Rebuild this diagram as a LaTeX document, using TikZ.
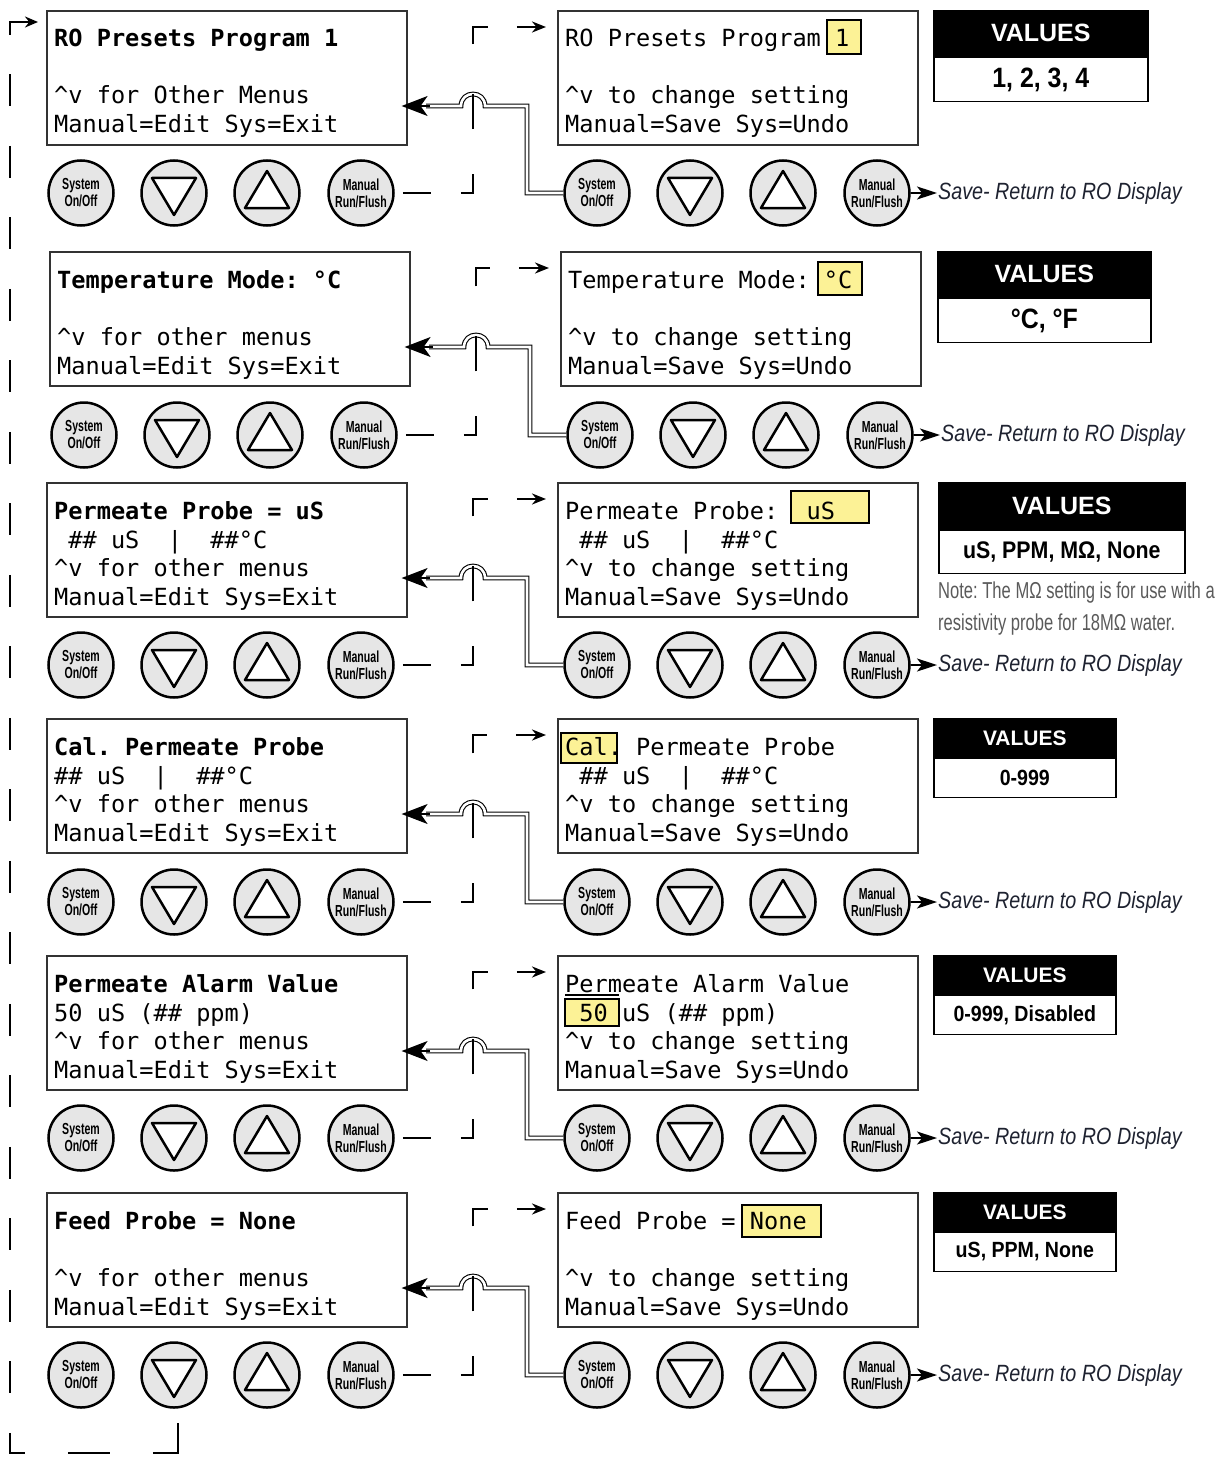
\documentclass[tikz,border=0pt]{standalone}
\usepackage{fontspec}
\usetikzlibrary{arrows.meta,calc}
\setmainfont{Liberation Sans}
\newfontfamily\lcdf{DejaVu Sans Mono}
\newfontfamily\hf{Liberation Sans}
\newfontfamily\valf{Liberation Sans}[FakeStretch=0.89]
\newfontfamily\notef{Liberation Sans}[FakeStretch=0.72]
\newfontfamily\savef{Liberation Sans}[FakeStretch=0.84]
\newfontfamily\btnf{Liberation Sans}[FakeStretch=0.66]
\definecolor{hl}{RGB}{252,242,150}
\definecolor{btngray}{RGB}{230,230,230}
\definecolor{notegray}{RGB}{90,90,90}
\definecolor{savecol}{RGB}{30,34,48}
\tikzset{
 lcdbox/.style={draw=black!80, line width=1.6pt, fill=white, inner sep=0pt, minimum width=360pt, minimum height=134pt, anchor=north west},
 lcd/.style={font=\lcdf\frenchspacing\fontsize{23.6}{28}\selectfont, inner sep=0pt, anchor=base west, yshift=-9pt, text=black},
 lcdb/.style={lcd, font=\lcdf\frenchspacing\bfseries\fontsize{23.6}{28}\selectfont},
 hlbox/.style={draw=black, line width=1.8pt, fill=hl},
 btn/.style={circle, draw=black, line width=2.5pt, fill=btngray, minimum size=65pt, inner sep=0pt, font=\btnf\bfseries\fontsize{16}{17}\selectfont, align=center},
 tri/.style={draw=black, line width=2.5pt, fill=white, line join=round},
 vhead/.style={draw=black, fill=black, text=white, line width=1.6pt, anchor=north west, inner sep=0pt},
 vbody/.style={draw=black, fill=white, line width=1.8pt, anchor=north, inner sep=0pt},
 savet/.style={font=\savef\frenchspacing\itshape\fontsize{23.5}{26}\selectfont, text=savecol, anchor=west, inner sep=1pt},
 notet/.style={font=\notef\frenchspacing\fontsize{23}{26}\selectfont, text=notegray, anchor=base west, yshift=-8pt, inner sep=0pt},
 savearr/.style={-{Stealth[length=20pt,width=13pt,inset=5pt]}, line width=1.5pt},
 dconn/.style={line width=2.4pt, draw=black},
 dbl/.style={draw=black, double=white, double distance=2.6pt, line width=1.1pt},
 bigarr/.style={-{Stealth[length=26pt,width=20pt,inset=7pt]}, line width=1.2pt},
 rowdash/.style={dconn, dash pattern=on 28pt off 30pt on 31pt off 45pt on 35pt off 50pt on 32pt off 29pt on 40pt off 10pt, -{Stealth[length=14pt,width=11pt]}},
}
\newcommand{\btnlab}[2]{#1\\#2}
\newcommand{\keypad}[3]{%
 \node[btn] (#1s) at (#2,#3) {\btnlab{System}{On/Off}};
 \node[btn] (#1d) at ({#2+93},#3) {};
 \draw[tri] ([shift={(-22,-15)}]#1d.center) -- ([shift={(22,-15)}]#1d.center) -- ([shift={(0,22)}]#1d.center) -- cycle;
 \node[btn] (#1u) at ({#2+186},#3) {};
 \draw[tri] ([shift={(-22,15)}]#1u.center) -- ([shift={(22,15)}]#1u.center) -- ([shift={(0,-22)}]#1u.center) -- cycle;
 \node[btn] (#1m) at ({#2+280},#3) {\btnlab{Manual}{Run/Flush}};
}
% #1 row id, #2 row top, #3 button y, #4 x offset, #5 left keypad prefix
\newcommand{\rowconn}[5]{%
 \draw[dbl] (R#1s.west) -- ({527+#4},#3) -- ({527+#4},{#2+96}) -- ({485+#4},{#2+96}) .. controls ({485+#4},{#2+80}) and ({461+#4},{#2+80}) .. ({461+#4},{#2+96}) -- ({426+#4},{#2+96});
 \draw[bigarr] ({430+#4},{#2+96}) -- ($(L#1box.north east)+(-6,96)$);
 \draw[rowdash] ([xshift=8pt]#5m.east) -- ({473+#4},#3) -- ({473+#4},{#2+17}) -- ($(R#1box.north west)+(-11,17)$);
}
\newcommand{\valbox}[9]{%
 \node[vhead, font={\hf\bfseries\fontsize{#8}{#8}\selectfont}, minimum width=#4, minimum height=#5] (V#1h) at (#2,#3) {VALUES};
 \node[vbody, font={\valf\bfseries\fontsize{#9}{#9}\selectfont}, minimum width=#4, minimum height=#6] (V#1b) at (V#1h.south) {#7};
}
\begin{document}
\begin{tikzpicture}[x=1pt,y=-1pt]
\fill[white] (0,0) rectangle (1228,1458);
\useasboundingbox (0,0) rectangle (1228,1458);

% ---------- Row 1
\node[lcdbox] (L1box) at (46,10) {};
\node[lcdb] (L1a) at (54,38) {RO Presets Program 1};
\node[lcd] (L1c) at (54,95) {\textasciicircum v for Other Menus};
\node[lcd] (L1d) at (54,124) {Manual=Edit Sys=Exit};
\node[lcdbox] (R1box) at (557,10) {};
\draw[hlbox] (827,20) rectangle (861,54);
\node[lcd] (R1a) at (565,38) {RO Presets Program 1};
\node[lcd] (R1c) at (565,95) {\textasciicircum v to change setting};
\node[lcd] (R1d) at (565,124) {Manual=Save Sys=Undo};
\keypad{L1}{81}{193}
\keypad{R1}{597}{193}
\valbox{1}{933}{10}{214pt}{45pt}{44pt}{1, 2, 3, 4}{25}{28}
\node[savet] (S1) at (937,193) {Save- Return to RO Display};
\draw[savearr] (R1m.east) -- (S1.west);
\rowconn{1}{10}{193}{0}{L1}

% ---------- Row 2
\node[lcdbox] (L2box) at (49,251) {};
\node[lcdb] (L2a) at (57,279) {Temperature Mode: °C};
\node[lcd] (L2c) at (57,336) {\textasciicircum v for other menus};
\node[lcd] (L2d) at (57,365) {Manual=Edit Sys=Exit};
\node[lcdbox] (R2box) at (560,251) {};
\draw[hlbox] (818,262) rectangle (862,295);
\node[lcd] (R2a) at (568,279) {Temperature Mode: °C};
\node[lcd] (R2c) at (568,336) {\textasciicircum v to change setting};
\node[lcd] (R2d) at (568,365) {Manual=Save Sys=Undo};
\keypad{L2}{84}{435}
\keypad{R2}{600}{435}
\valbox{2}{937}{251}{213pt}{45pt}{44pt}{°C, °F}{25}{28}
\node[savet] (S2) at (940,435) {Save- Return to RO Display};
\draw[savearr] (R2m.east) -- (S2.west);
\rowconn{2}{251}{435}{3}{L2}

% ---------- Row 3
\node[lcdbox] (L3box) at (46,482) {};
\node[lcdb] (L3a) at (54,510) {Permeate Probe = uS};
\node[lcd] (L3b) at (54,539) {\ \#\# uS\ \ |\ \ \#\#°C};
\node[lcd] (L3c) at (54,567) {\textasciicircum v for other menus};
\node[lcd] (L3d) at (54,596) {Manual=Edit Sys=Exit};
\node[lcdbox] (R3box) at (557,482) {};
\draw[hlbox] (791,491) rectangle (869,523);
\node[lcd] (R3a) at (565,510) {Permeate Probe:\ \ uS};
\node[lcd] (R3b) at (565,539) {\ \#\# uS\ \ |\ \ \#\#°C};
\node[lcd] (R3c) at (565,567) {\textasciicircum v to change setting};
\node[lcd] (R3d) at (565,596) {Manual=Save Sys=Undo};
\keypad{L3}{81}{665}
\keypad{R3}{597}{665}
\valbox{3}{938}{482}{246pt}{46pt}{43pt}{uS, PPM, MΩ, None}{25}{24}
\node[notet] (N1) at (938,590) {Note: The MΩ setting is for use with a};
\node[notet] (N2) at (938,622) {resistivity probe for 18MΩ water.};
\node[savet] (S3) at (937,665) {Save- Return to RO Display};
\draw[savearr] (R3m.east) -- (S3.west);
\rowconn{3}{482}{665}{0}{L3}

% ---------- Row 4
\node[lcdbox] (L4box) at (46,718) {};
\node[lcdb] (L4a) at (54,746) {Cal. Permeate Probe};
\node[lcd] (L4b) at (54,775) {\#\# uS\ \ |\ \ \#\#°C};
\node[lcd] (L4c) at (54,803) {\textasciicircum v for other menus};
\node[lcd] (L4d) at (54,832) {Manual=Edit Sys=Exit};
\node[lcdbox] (R4box) at (557,718) {};
\draw[hlbox] (561,733) rectangle (617,763);
\node[lcd] (R4a) at (565,746) {Cal. Permeate Probe};
\node[lcd] (R4b) at (565,775) {\ \#\# uS\ \ |\ \ \#\#°C};
\node[lcd] (R4c) at (565,803) {\textasciicircum v to change setting};
\node[lcd] (R4d) at (565,832) {Manual=Save Sys=Undo};
\keypad{L4}{81}{902}
\keypad{R4}{597}{902}
\valbox{4}{933}{718}{182pt}{38pt}{39pt}{0-999}{21}{22}
\node[savet] (S4) at (937,902) {Save- Return to RO Display};
\draw[savearr] (R4m.east) -- (S4.west);
\rowconn{4}{718}{902}{0}{L4}

% ---------- Row 5
\node[lcdbox] (L5box) at (46,955) {};
\node[lcdb] (L5a) at (54,983) {Permeate Alarm Value};
\node[lcd] (L5b) at (54,1012) {50 uS (\#\# ppm)};
\node[lcd] (L5c) at (54,1040) {\textasciicircum v for other menus};
\node[lcd] (L5d) at (54,1069) {Manual=Edit Sys=Exit};
\node[lcdbox] (R5box) at (557,955) {};
\draw[hlbox] (565,999) rectangle (619,1026);
\node[lcd] (R5a) at (565,983) {Permeate Alarm Value};
\draw[line width=1.5pt] (565,995) -- (619,995);
\node[lcd] (R5b) at (565,1012) {\ 50 uS (\#\# ppm)};
\node[lcd] (R5c) at (565,1040) {\textasciicircum v to change setting};
\node[lcd] (R5d) at (565,1069) {Manual=Save Sys=Undo};
\keypad{L5}{81}{1138}
\keypad{R5}{597}{1138}
\valbox{5}{933}{955}{182pt}{38pt}{39pt}{0-999, Disabled}{21}{22}
\node[savet] (S5) at (937,1138) {Save- Return to RO Display};
\draw[savearr] (R5m.east) -- (S5.west);
\rowconn{5}{955}{1138}{0}{L5}

% ---------- Row 6
\node[lcdbox] (L6box) at (46,1192) {};
\node[lcdb] (L6a) at (54,1220) {Feed Probe = None};
\node[lcd] (L6c) at (54,1277) {\textasciicircum v for other menus};
\node[lcd] (L6d) at (54,1306) {Manual=Edit Sys=Exit};
\node[lcdbox] (R6box) at (557,1192) {};
\draw[hlbox] (742,1205) rectangle (821,1237);
\node[lcd] (R6a) at (565,1220) {Feed Probe = None};
\node[lcd] (R6c) at (565,1277) {\textasciicircum v to change setting};
\node[lcd] (R6d) at (565,1306) {Manual=Save Sys=Undo};
\keypad{K6}{81}{1375}
\keypad{R6}{597}{1375}
\valbox{6}{933}{1192}{182pt}{38pt}{39pt}{uS, PPM, None}{21}{22}
\node[savet] (S6) at (937,1375) {Save- Return to RO Display};
\draw[savearr] (R6m.east) -- (S6.west);
\rowconn{6}{1192}{1375}{0}{K6}

% ---------- big loop (down key of the last menu back to the first menu)
\draw[dconn, {Stealth[length=13pt,width=11pt]}-,
  dash pattern=on 33pt off 39.5pt
   on 32pt off 39.5pt on 32pt off 39.5pt on 32pt off 39.5pt on 32pt off 39.5pt
   on 32pt off 39.5pt on 32pt off 39.5pt on 32pt off 39.5pt on 32pt off 39.5pt
   on 32pt off 39.5pt on 32pt off 39.5pt on 32pt off 39.5pt on 32pt off 39.5pt
   on 32pt off 39.5pt on 32pt off 39.5pt on 32pt off 39.5pt on 32pt off 39.5pt
   on 32pt off 39.5pt on 32pt off 39.5pt on 32pt off 39.5pt
   on 35pt off 43pt on 42pt off 43pt on 55pt off 20pt]
  ($(L1box.north west)+(-8,12)$) -- (10,22) -- (10,1453) -- (178,1453) -- ([xshift=4pt]K6d.south);
\end{tikzpicture}
\end{document}
